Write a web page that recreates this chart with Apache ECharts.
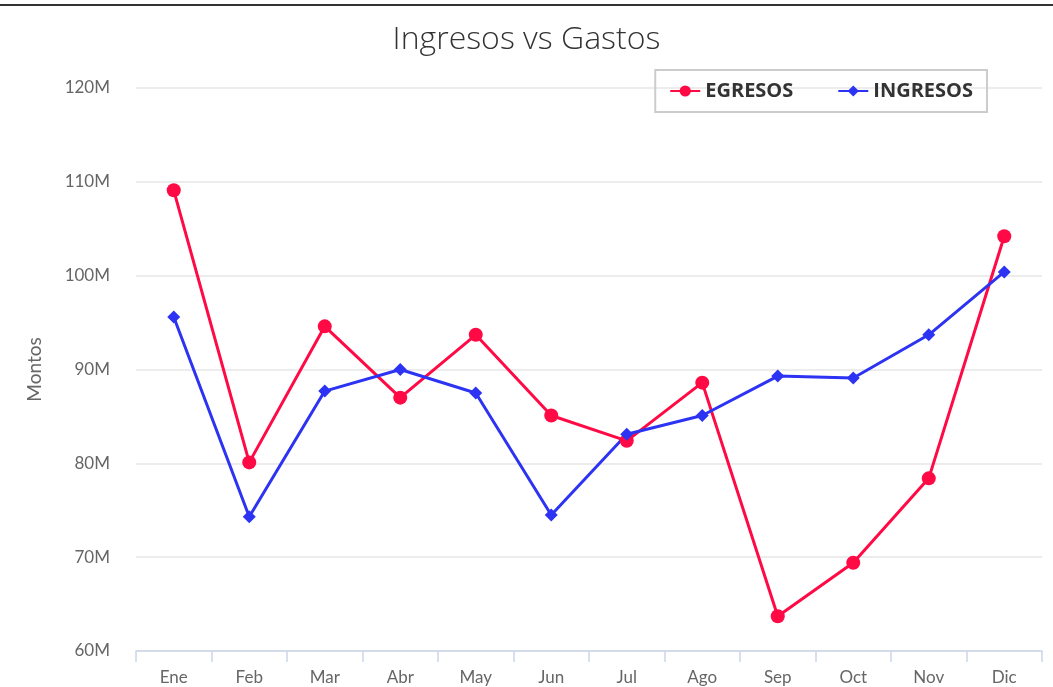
<!DOCTYPE html>
<html>
<head>
<meta charset="utf-8">
<script src="https://cdn.jsdelivr.net/npm/echarts@6/dist/echarts.min.js"></script>
<style>
html,body{margin:0;padding:0;background:#fff;}
#chart{width:1053px;height:687px;}
</style>
</head>
<body>
<div id="chart"></div>
<script>
const categories = ['Ene','Feb','Mar','Abr','May','Jun','Jul','Ago','Sep','Oct','Nov','Dic'];
const egresos = [109.1, 80.1, 94.6, 87.0, 93.7, 85.1, 82.4, 88.6, 63.7, 69.4, 78.4, 104.2];
const ingresos = [95.6, 74.3, 87.7, 90.0, 87.5, 74.5, 83.1, 85.1, 89.3, 89.1, 93.7, 100.4];
const yTicks = [60, 70, 80, 90, 100, 110, 120];

const FONT = 'Lato, "Open Sans", sans-serif';
const WIDE = '"Open Sans", Lato, sans-serif';
const chart = echarts.init(document.getElementById('chart'));
chart.setOption({
  animation: false,
  textStyle: { fontFamily: FONT },
  graphic: [{
    type: 'rect', left: 0, top: 4,
    shape: { width: 1053, height: 2 },
    style: { fill: '#333' }
  }],
  title: {
    text: 'Ingresos vs Gastos',
    left: 'center', top: 19,
    textStyle: { fontFamily: WIDE, fontSize: 32, fontWeight: 300, color: '#333' }
  },
  legend: {
    top: 70, right: 66,
    padding: [11, 14, 11, 14],
    borderColor: '#cccccc', borderWidth: 2,
    itemGap: 44, itemWidth: 30, itemHeight: 14,
    textStyle: { fontFamily: WIDE, fontSize: 20, fontWeight: 'bold', color: '#333' },
    data: ['EGRESOS', 'INGRESOS']
  },
  grid: { left: 136, right: 11, top: 88, bottom: 36 },
  xAxis: {
    type: 'category',
    data: categories,
    boundaryGap: true,
    axisLine: { lineStyle: { color: '#ccd6eb', width: 1.5 } },
    axisTick: { show: true, length: 11, lineStyle: { color: '#ccd6eb', width: 1.5 } },
    axisLabel: { color: '#666', fontSize: 17, margin: 18, fontFamily: FONT }
  },
  yAxis: {
    type: 'value',
    min: yTicks[0], max: yTicks[yTicks.length - 1], interval: 10,
    name: 'Montos', nameLocation: 'middle', nameGap: 92, nameRotate: 90,
    nameTextStyle: { color: '#666', fontSize: 19, fontFamily: FONT },
    axisLine: { show: false },
    axisTick: { show: false },
    axisLabel: { color: '#666', fontSize: 17, margin: 26, fontFamily: FONT, formatter: '{value}M' },
    splitLine: { lineStyle: { color: '#e6e6e6', width: 1.5 } }
  },
  series: [
    {
      name: 'EGRESOS', type: 'line', data: egresos,
      symbol: 'circle', symbolSize: 14,
      lineStyle: { color: '#ff0a45', width: 3 },
      itemStyle: { color: '#ff0a45' }
    },
    {
      name: 'INGRESOS', type: 'line', data: ingresos,
      symbol: 'diamond', symbolSize: 13,
      lineStyle: { color: '#2d33f2', width: 3 },
      itemStyle: { color: '#2d33f2' }
    }
  ]
});
</script>
</body>
</html>
